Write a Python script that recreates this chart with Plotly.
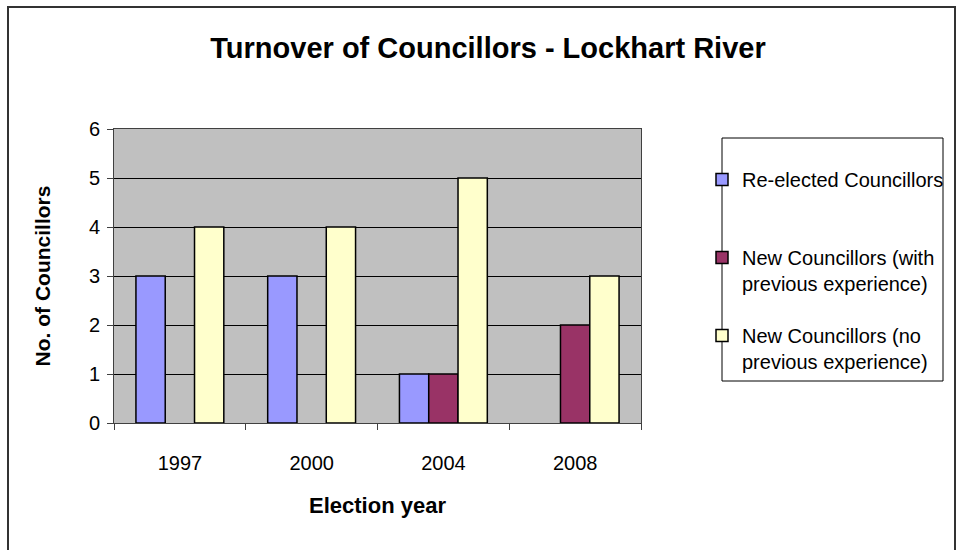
import plotly.graph_objects as go

years = ["1997", "2000", "2004", "2008"]
reelected = [3, 3, 1, None]
new_with_exp = [None, None, 1, 2]
new_no_exp = [4, 4, 5, 3]

names = [
    "Re-elected Councillors<br>\u00a0",
    "New Councillors (with<br>previous experience)",
    "New Councillors (no<br>previous experience)",
]
colors = ["#9999FF", "#993366", "#FFFFCC"]
series = [reelected, new_with_exp, new_no_exp]

FONT = "Arial, Liberation Sans, sans-serif"

W, H = 958, 550
L, R, T, B = 114, 641, 129, 423
pw, ph = R - L, B - T

fig = go.Figure()
for i, (nm, col, vals) in enumerate(zip(names, colors, series)):
    fig.add_trace(go.Bar(
        x=years, y=vals, name=nm, legendgroup=str(i),
        marker=dict(color=col, line=dict(color="black", width=1.5)),
    ))

def px_x(x):
    return (x - L) / pw

def px_y(y):
    return (B - y) / ph

fig.update_layout(
    width=W, height=H,
    margin=dict(l=L, r=W - R, t=T, b=H - B, pad=0, autoexpand=False),
    paper_bgcolor="white",
    plot_bgcolor="#C0C0C0",
    barmode="group",
    bargap=0.333,
    bargroupgap=0,
    font=dict(family=FONT, size=20, color="black"),
    title=dict(
        text="<b>Turnover of Councillors - Lockhart River</b>",
        font=dict(family=FONT, size=29, color="black"),
        x=488 / W, xanchor="center", xref="container",
        y=1 - 48 / H, yanchor="middle", yref="container",
    ),
    legend=dict(
        xref="container", yref="container",
        x=702 / W, y=1 - 160 / H, xanchor="left", yanchor="top",
        borderwidth=0, bgcolor="rgba(0,0,0,0)",
        font=dict(family=FONT, size=20, color="black"),
        traceorder="grouped", tracegroupgap=23, valign="top",
        itemwidth=30,
    ),
    xaxis=dict(
        showgrid=False, ticks="outside", tickson="boundaries", ticklen=6,
        tickcolor="#404040", showline=True, linecolor="#404040", linewidth=1,
        mirror=True, ticklabelstandoff=22,
        tickfont=dict(family=FONT, size=20, color="black"),
        title=dict(text="<b>Election year</b>", font=dict(family=FONT, size=22, color="black"), standoff=24),
    ),
    yaxis=dict(
        range=[0, 6], dtick=1, showgrid=True, gridcolor="black", gridwidth=1,
        ticks="outside", ticklen=6, tickcolor="#404040",
        showline=True, linecolor="#404040", linewidth=1, mirror=True,
        zeroline=False, ticklabelstandoff=3,
        tickfont=dict(family=FONT, size=20, color="black"),
        title=dict(text="<b>No. of Councillors</b>", font=dict(family=FONT, size=21, color="black"), standoff=32),
    ),
    shapes=[
        dict(
            type="rect", xref="paper", yref="paper",
            x0=px_x(8), x1=px_x(955), y0=px_y(560), y1=px_y(7),
            line=dict(color="#333333", width=2), fillcolor="rgba(0,0,0,0)", layer="below",
        ),
        dict(
            type="rect", xref="paper", yref="paper",
            x0=px_x(722), x1=px_x(943), y0=px_y(381), y1=px_y(138),
            line=dict(color="black", width=1), fillcolor="white", layer="below",
        ),
    ],
)

fig.write_html("out.html")
